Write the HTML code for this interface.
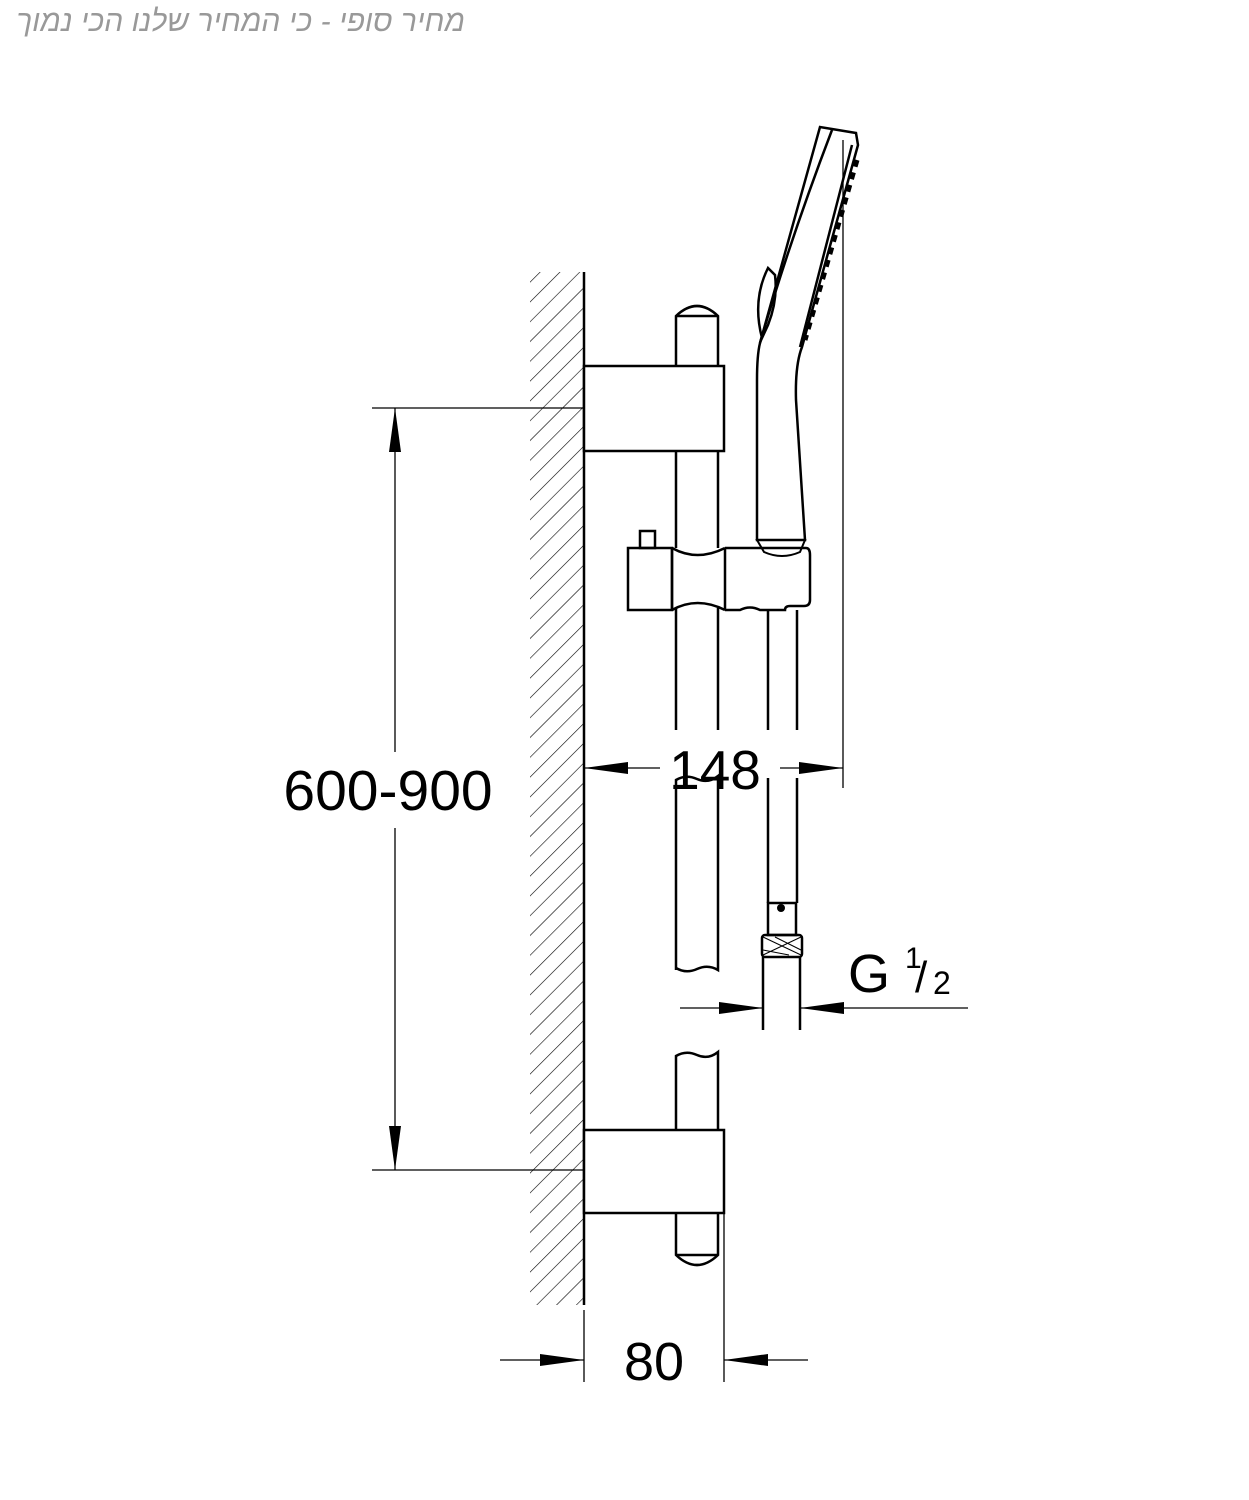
<!DOCTYPE html>
<html><head><meta charset="utf-8"><style>
html,body{margin:0;padding:0;background:#fff;}
svg{display:block}
</style></head><body>
<svg width="1249" height="1500" viewBox="0 0 1249 1500" xmlns="http://www.w3.org/2000/svg">
<defs>
<pattern id="h" width="14" height="14" patternUnits="userSpaceOnUse" patternTransform="rotate(45)">
<line x1="0" y1="0" x2="0" y2="14" stroke="#000" stroke-width="1.2"/>
</pattern>
<clipPath id="wc"><rect x="530" y="272" width="54" height="1033"/></clipPath>
</defs>
<text x="465" y="31" text-anchor="start" direction="rtl" font-family="'Liberation Sans','DejaVu Sans',sans-serif" font-style="italic" font-size="30" fill="#999">מחיר סופי - כי המחיר שלנו הכי נמוך</text>

<g clip-path="url(#wc)"><rect x="530" y="272" width="54" height="1033" fill="url(#h)"/></g>
<line x1="584" y1="272" x2="584" y2="1305" stroke="#000" stroke-width="2.5"/>

<g fill="none" stroke="#000" stroke-width="2.5">
<path d="M676 366 V316 Q697 296 718 316 V366"/>
<line x1="676" y1="316" x2="718" y2="316"/>
<path d="M676 451 V548 M718 451 V548"/>
<path d="M676 608 V730 M718 608 V730"/>
<path d="M676 970 V780 Q686 774 697 779 Q708 784 718 776 V970 Q708 964 697 969 Q686 974 676 968"/>
<path d="M676 1130 V1056 Q686 1050 697 1055 Q708 1060 718 1052 V1130"/>
<path d="M676 1213 V1255 Q697 1275 718 1255 V1213"/>
<line x1="676" y1="1255" x2="718" y2="1255"/>
<rect x="584" y="366" width="140" height="85" fill="#fff"/>
<rect x="584" y="1130" width="140" height="83" fill="#fff"/>
<rect x="640" y="531" width="15" height="17"/>
<rect x="628" y="548" width="44" height="62"/>
<path d="M672 548 Q697 562 725 548 M672 610 Q697 596 725 610 M672 548 V610 M725 548 V610"/>
<path d="M725 548 H806 Q810 548 810 555 V600 Q810 606 804 606 H790 Q785 606 785 610 H760 Q750 605 740 610 H725"/>
<path d="M768 610 V730 M797 610 V730"/>
<path d="M768 778 V903 M797 778 V903"/>
<rect x="768" y="903" width="28" height="32"/>
<rect x="762" y="935" width="40" height="22" rx="3"/>
<path d="M763 957 V1030 M800 957 V1030"/>
<path d="M757 540 L757 380 Q757 355 760 343 L820 127 L856 133 L858 145 L802 347 Q795 365 796 400 L805 540 Z" fill="#fff"/>
<path d="M760 343 Q790 240 832 130"/>
<path d="M852 145 L800 347"/>
<path d="M762 338 Q752 300 768 268 L775 275 Q778 300 768 325 Z"/>
<path d="M857 160 L805 340" stroke-width="5" stroke-dasharray="7 6"/>
<path d="M757 540 L805 540 L800 552 Q782 560 764 552 Z" stroke-width="2"/>
</g>
<circle cx="781" cy="908" r="4" fill="#000"/>
<path d="M763 937 L801 955 M763 955 L801 937 M775 937 L801 950 M763 950 L789 955" stroke="#000" stroke-width="1"/>

<g stroke="#000" stroke-width="1.3" fill="none">
<line x1="843" y1="140" x2="843" y2="788"/>
<line x1="584" y1="768" x2="660" y2="768"/>
<line x1="780" y1="768" x2="843" y2="768"/>
<line x1="372" y1="408" x2="584" y2="408"/>
<line x1="372" y1="1170" x2="584" y2="1170"/>
<line x1="395" y1="408" x2="395" y2="752"/>
<line x1="395" y1="828" x2="395" y2="1170"/>
<line x1="584" y1="1310" x2="584" y2="1382"/>
<line x1="724" y1="1213" x2="724" y2="1382"/>
<line x1="500" y1="1360" x2="584" y2="1360"/>
<line x1="724" y1="1360" x2="808" y2="1360"/>
<line x1="680" y1="1008" x2="763" y2="1008"/>
<line x1="800" y1="1008" x2="968" y2="1008"/>
</g>
<g fill="#000">
<polygon points="584,768 628,762 628,774"/>
<polygon points="843,768 799,762 799,774"/>
<polygon points="395,408 389,452 401,452"/>
<polygon points="395,1170 389,1126 401,1126"/>
<polygon points="584,1360 540,1354 540,1366"/>
<polygon points="724,1360 768,1354 768,1366"/>
<polygon points="763,1008 719,1002 719,1014"/>
<polygon points="800,1008 844,1002 844,1014"/>
</g>
<g font-family="'Liberation Sans',sans-serif" fill="#000">
<text x="715" y="789" font-size="55" text-anchor="middle">148</text>
<text x="388" y="810" font-size="57" text-anchor="middle">600-900</text>
<text x="654" y="1380" font-size="54" text-anchor="middle">80</text>
<text x="848" y="992" font-size="54">G</text>
<text x="905" y="968" font-size="30">1</text>
<text x="915" y="992" font-size="44">/</text>
<text x="933" y="994" font-size="32">2</text>
</g>
</svg>
</body></html>
